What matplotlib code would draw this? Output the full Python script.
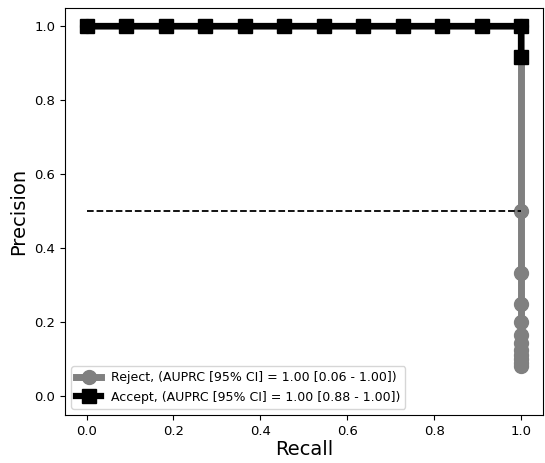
import matplotlib
matplotlib.use("Agg")
import matplotlib.pyplot as plt

# Precision-recall points per class
reject_recall = [0.0, 1.0, 1.0, 1.0, 1.0, 1.0, 1.0, 1.0, 1.0, 1.0, 1.0, 1.0, 1.0]
reject_precision = [1.0, 1.0, 0.5, 0.3333, 0.25, 0.2, 0.1667, 0.1429, 0.125, 0.1111, 0.1, 0.0909, 0.0833]

accept_recall = [0.0, 0.0909, 0.1818, 0.2727, 0.3636, 0.4545, 0.5455, 0.6364,
                 0.7273, 0.8182, 0.9091, 1.0, 1.0]
accept_precision = [1.0, 1.0, 1.0, 1.0, 1.0, 1.0, 1.0, 1.0, 1.0, 1.0, 1.0, 1.0, 0.9167]

reject_label = "Reject, (AUPRC [95% CI] = 1.00 [0.06 - 1.00])"
accept_label = "Accept, (AUPRC [95% CI] = 1.00 [0.88 - 1.00])"

baseline_x = [0.0, 1.0]
baseline_y = [0.5, 0.5]

fig = plt.figure(figsize=(5.45, 4.63), dpi=100)
ax = fig.add_axes([0.119, 0.104, 0.877, 0.879])

ax.plot(reject_recall, reject_precision, color="gray", linewidth=5, marker="o",
        markersize=10, label=reject_label)
ax.plot(accept_recall, accept_precision, color="black", linewidth=4.5, marker="s",
        markersize=10, label=accept_label)
ax.plot(baseline_x, baseline_y, color="black", linestyle="--", linewidth=1.3)

ax.set_xlim(-0.05, 1.05)
ax.set_ylim(-0.05, 1.05)
ax.set_xlabel("Recall", fontsize=14, labelpad=2)
ax.set_ylabel("Precision", fontsize=14)
ax.tick_params(labelsize=9.5)
ax.legend(loc="lower left", fontsize=9)

fig.savefig("out.png", dpi=100)
